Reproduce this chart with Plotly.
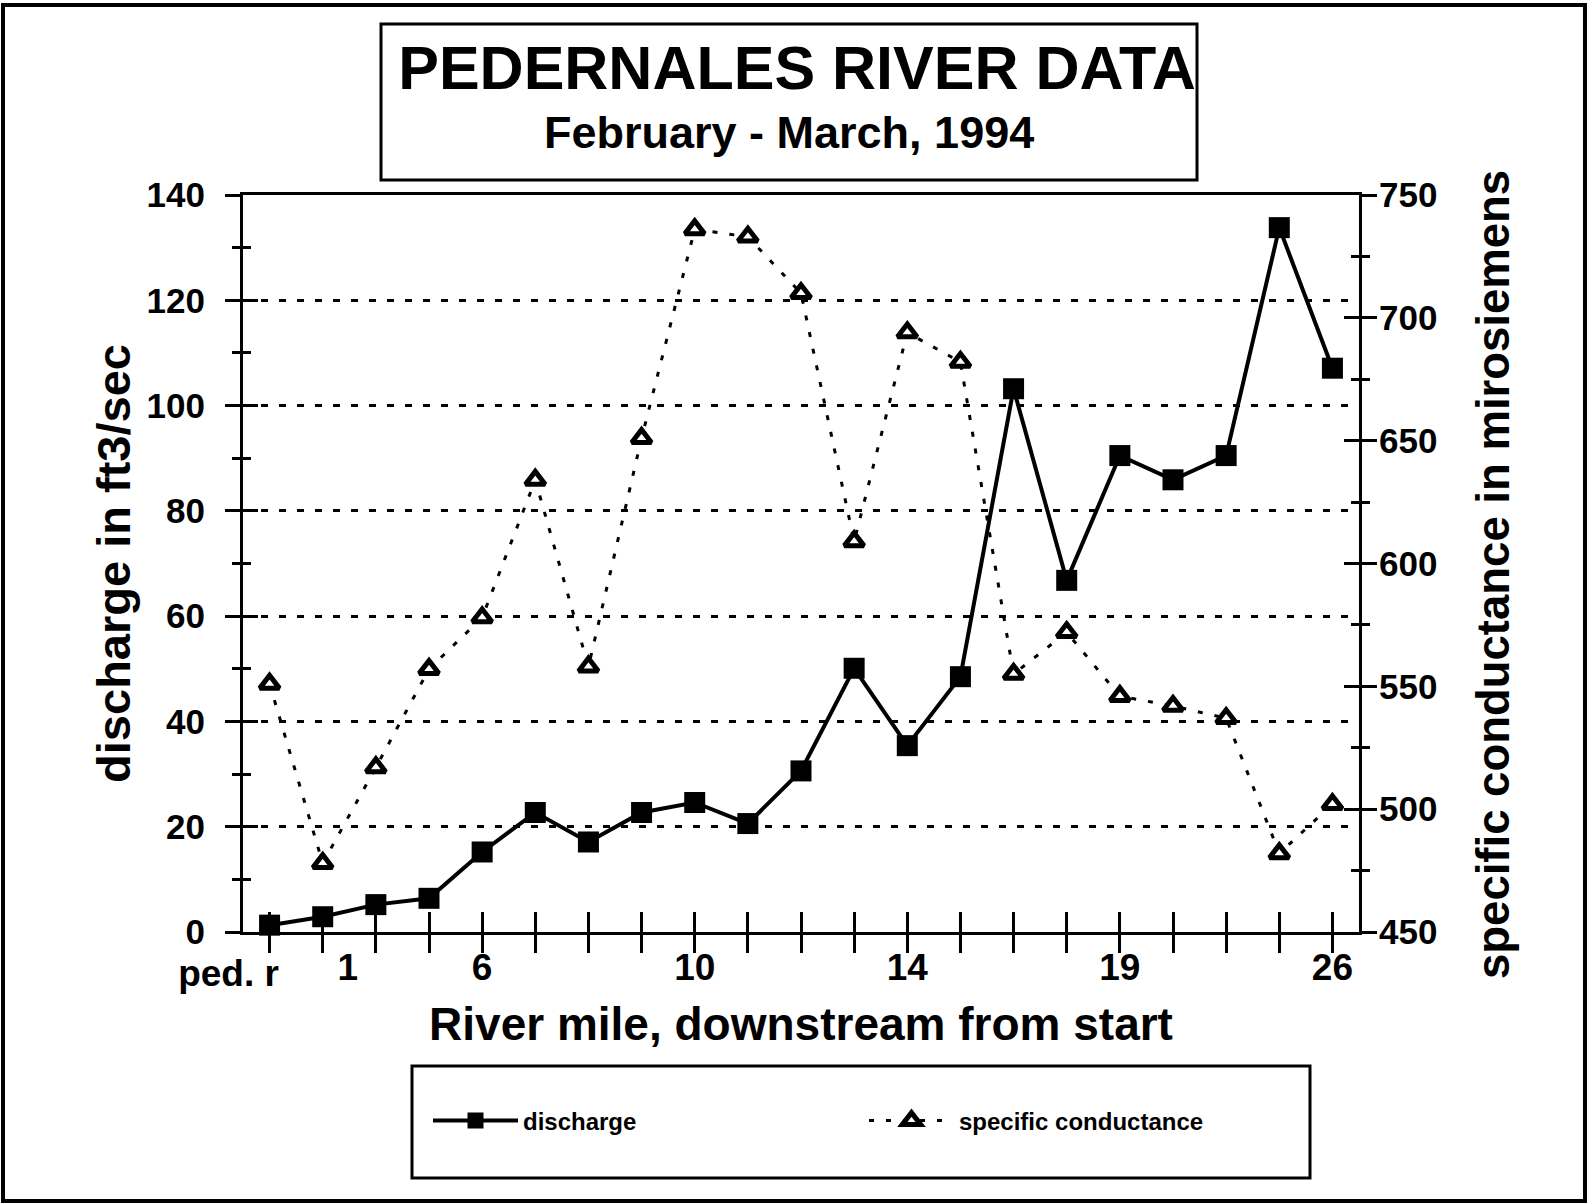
import plotly.graph_objects as go

# ---- data ----
stations = list(range(21))                       # sampling stations, upstream -> downstream
first_label = "ped. r"
tick_positions = [1.47, 4, 8, 12, 16, 20]
tick_labels = ["1", "6", "10", "14", "19", "26"]
discharge = [1.3, 2.9, 5.2, 6.4, 15.2, 22.7, 17.1, 22.7, 24.6, 20.6, 30.6,
             50.1, 35.4, 48.5, 103.2, 66.8, 90.5, 85.9, 90.5, 133.8, 107.1]
conductance = [551, 478, 517, 557, 578, 634, 558, 651, 736, 733, 710,
               609, 694, 682, 555, 572, 546, 542, 537, 482, 502]

FONT = "Liberation Sans, Arial, Helvetica, sans-serif"
W, H = 1588, 1204
L, R, T, B = 243, 229, 195, 272
pw, ph = W - L - R, H - T - B


def px(x):
    return (x - L) / pw


def py(y):
    return (H - B - y) / ph


fig = go.Figure()

fig.add_trace(go.Scatter(
    x=stations, y=conductance, name="specific conductance", xaxis="x", yaxis="y2",
    mode="lines+markers",
    line=dict(color="black", width=3, dash="5px,12px"),
    marker=dict(symbol="triangle-up", size=17, color="white",
                line=dict(color="black", width=5)),
    cliponaxis=False,
))
fig.add_trace(go.Scatter(
    x=stations, y=discharge, name="discharge", xaxis="x", yaxis="y",
    mode="lines+markers",
    line=dict(color="black", width=4),
    marker=dict(symbol="square", size=21, color="black"),
    cliponaxis=False,
))
# helper (empty) traces so the overlay axes used for crossing tick marks / labels get drawn
fig.add_trace(go.Scatter(x=[], y=[], xaxis="x2", yaxis="y3", showlegend=False, hoverinfo="skip"))
fig.add_trace(go.Scatter(x=[], y=[], xaxis="x3", yaxis="y4", showlegend=False, hoverinfo="skip"))
fig.add_trace(go.Scatter(x=[], y=[], xaxis="x4", yaxis="y", showlegend=False, hoverinfo="skip"))

tickfont_x = dict(family=FONT, size=37, color="black", weight="bold")
tickfont_y = dict(family=FONT, size=35, color="black", weight="bold")
rng_x = [-0.5, 20.5]
common_overlay = dict(range=rng_x, overlaying="x", anchor="y", side="bottom",
                      showline=False, showgrid=False, zeroline=False)

fig.update_layout(
    width=W, height=H,
    margin=dict(l=L, r=R, t=T, b=B),
    paper_bgcolor="white", plot_bgcolor="white",
    font=dict(family=FONT, color="black", weight="bold"),
    showlegend=True,
    title=dict(
        text="PEDERNALES RIVER DATA",
        font=dict(family=FONT, size=61, color="black", weight="bold"),
        x=797 / W, xanchor="center", xref="container",
        y=1 - 46 / H, yanchor="top", yref="container",
    ),
    annotations=[
        dict(text="February - March, 1994", showarrow=False,
             xref="paper", yref="paper", x=px(789), y=py(132), xanchor="center", yanchor="middle",
             font=dict(family=FONT, size=45, color="black", weight="bold")),
        # right-hand axis title (placed as rotated text, like the original sheet)
        dict(text="specific conductance in mirosiemens", showarrow=False, textangle=-90,
             xref="paper", yref="paper", x=px(1493), y=py(575),
             xanchor="center", yanchor="middle",
             font=dict(family=FONT, size=45.5, color="black", weight="bold")),
    ],
    xaxis=dict(
        range=rng_x, tickmode="array", tickvals=stations, ticktext=[""] * 21,
        ticks="outside", ticklen=18, tickwidth=3, tickcolor="black",
        showline=True, linewidth=3, linecolor="black", mirror=True,
        showgrid=False, zeroline=False,
    ),
    xaxis2=dict(
        **common_overlay,
        tickmode="array", tickvals=stations, showticklabels=False,
        ticks="inside", ticklen=20, tickwidth=3, tickcolor="black",
    ),
    xaxis3=dict(
        **common_overlay,
        tickmode="array", tickvals=tick_positions, ticktext=tick_labels, tickangle=0,
        ticks="", tickfont=tickfont_x, ticklabelstandoff=10,
        title=dict(text="River mile, downstream from start",
                   font=dict(family=FONT, size=46, color="black", weight="bold"),
                   standoff=20),
    ),
    xaxis4=dict(
        **common_overlay,
        tickmode="array", tickvals=[stations[0]], ticktext=[first_label], tickangle=0,
        ticks="", tickfont=tickfont_x, ticklabelstandoff=16, ticklabelshift=-41,
    ),
    yaxis=dict(
        range=[0, 140], tickmode="linear", tick0=0, dtick=20,
        ticks="outside", ticklen=15, tickwidth=3, tickcolor="black",
        minor=dict(dtick=10, tick0=0, ticks="outside", ticklen=8, tickwidth=3, tickcolor="black"),
        tickfont=tickfont_y, ticklabelstandoff=13,
        showline=True, linewidth=3, linecolor="black",
        showgrid=True, gridcolor="black", gridwidth=3, griddash="7px,11px",
        zeroline=False,
        title=dict(text="discharge in ft3/sec",
                   font=dict(family=FONT, size=47, color="black", weight="bold"),
                   standoff=2),
    ),
    yaxis3=dict(
        range=[0, 140], overlaying="y", anchor="x", side="left",
        tickmode="linear", tick0=0, dtick=20, showticklabels=False,
        ticks="inside", ticklen=15, tickwidth=3, tickcolor="black",
        minor=dict(dtick=10, tick0=0, ticks="inside", ticklen=8, tickwidth=3, tickcolor="black"),
        showline=False, showgrid=False, zeroline=False,
    ),
    yaxis2=dict(
        range=[450, 750], overlaying="y", anchor="x", side="right",
        tickmode="linear", tick0=450, dtick=50,
        ticks="outside", ticklen=15, tickwidth=3, tickcolor="black",
        minor=dict(dtick=25, tick0=450, ticks="outside", ticklen=8, tickwidth=3, tickcolor="black"),
        tickfont=tickfont_y, ticklabelstandoff=-5,
        showline=True, linewidth=3, linecolor="black",
        showgrid=False, zeroline=False,
    ),
    yaxis4=dict(
        range=[450, 750], overlaying="y", anchor="x", side="right",
        tickmode="linear", tick0=450, dtick=50, showticklabels=False,
        ticks="inside", ticklen=15, tickwidth=3, tickcolor="black",
        minor=dict(dtick=25, tick0=450, ticks="inside", ticklen=8, tickwidth=3, tickcolor="black"),
        showline=False, showgrid=False, zeroline=False,
    ),
    legend=dict(
        orientation="h", traceorder="reversed",
        xref="container", yref="container",
        x=428 / W, xanchor="left", y=1 - 1121 / H, yanchor="middle",
        font=dict(family=FONT, size=24, color="black", weight="bold"),
        itemwidth=85, entrywidth=336, bgcolor="rgba(0,0,0,0)", borderwidth=0,
    ),
    shapes=[
        # outer frame
        dict(type="rect", xref="paper", yref="paper",
             x0=px(3), x1=px(1585), y0=py(1201), y1=py(5),
             line=dict(color="black", width=4), layer="below"),
        # title box
        dict(type="rect", xref="paper", yref="paper",
             x0=px(381), x1=px(1197), y0=py(180), y1=py(24),
             line=dict(color="black", width=3)),
        # legend box
        dict(type="rect", xref="paper", yref="paper",
             x0=px(412), x1=px(1310), y0=py(1178), y1=py(1066),
             line=dict(color="black", width=3)),
    ],
)

fig.write_html("out.html", config={"displayModeBar": False},
               post_script="document.body.style.margin='0';")
